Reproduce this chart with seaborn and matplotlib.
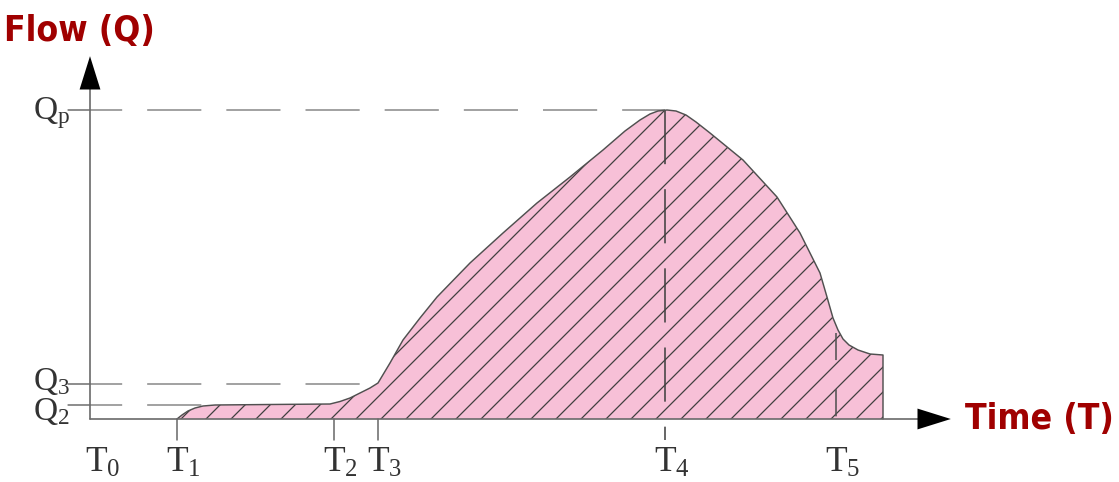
import numpy as np
import pandas as pd
import matplotlib
matplotlib.use("Agg")
import matplotlib.pyplot as plt
import seaborn as sns

# ---- data ----
time_pts = [8.7, 9.2, 9.8, 10.5, 11.3, 12.5, 18.0, 24.0, 25.0, 26.0, 27.0, 28.0, 28.8,
            30.0, 31.3, 33.0, 34.7, 38.0, 41.3, 44.7, 48.0, 51.3, 53.5, 55.0, 56.0,
            56.8, 57.7, 58.6, 59.6, 60.6, 62.0, 65.3, 68.7, 71.0, 73.0, 73.7, 74.3,
            74.8, 75.3, 75.9, 76.8, 78.0, 79.3, 79.3]
flow_pts = [0.0, 0.4, 0.8, 1.1, 1.3, 1.4, 1.45, 1.5, 1.75, 2.1, 2.6, 3.1, 3.6,
            5.6, 7.9, 10.1, 12.2, 15.6, 18.6, 21.6, 24.2, 26.9, 28.8, 29.9, 30.5,
            30.8, 30.9, 30.8, 30.4, 29.7, 28.6, 25.9, 22.2, 18.6, 14.6, 12.2, 10.1,
            8.9, 8.0, 7.4, 6.9, 6.5, 6.4, 0.0]

t_ticks = [0.0, 8.7, 24.4, 28.8, 57.5, 74.6]
t_labels = ["T$_0$", "T$_1$", "T$_2$", "T$_3$", "T$_4$", "T$_5$"]
q_ticks = [1.4, 3.5, 30.9]
q_labels = ["Q$_2$", "Q$_3$", "Q$_\\mathrm{p}$"]
q_dash_end = [12.5, 28.8, 57.5]

x_label = "Time (T)"
y_label = "Flow (Q)"

# ---- style ----
sns.set_theme(style="white")
plt.rcParams["font.family"] = ["DejaVu Sans"]
plt.rcParams["mathtext.fontset"] = "custom"
plt.rcParams["mathtext.rm"] = "Liberation Serif"
plt.rcParams["mathtext.it"] = "Liberation Serif:italic"
plt.rcParams["hatch.linewidth"] = 0.6
plt.rcParams["lines.scale_dashes"] = False

DPI = 150
fig = plt.figure(figsize=(1119 / DPI, 482 / DPI), dpi=DPI)
ax = fig.add_axes([0, 0, 1, 1])
ax.set_xlim(-9.0, 102.9)
ax.set_ylim(-6.3, 41.9)
ax.axis("off")

df = pd.DataFrame({"t": time_pts, "q": flow_pts})
pink = "#F7C0D7"
hatch_col = "#404040"
ax.fill_between(df["t"], df["q"], 0, facecolor=pink, edgecolor="none", lw=0, zorder=1)
ax.fill_between(df["t"], df["q"], 0, facecolor="none", edgecolor=hatch_col, hatch="//",
                lw=0, zorder=2)
sns.lineplot(data=df, x="t", y="q", sort=False, estimator=None, color="#505050",
             lw=0.7, ax=ax, zorder=4)

axis_col = "#6a6a6a"
dash = (0, (26, 12))
# horizontal dashed lines for Q values
for q, xe in zip(q_ticks, q_dash_end):
    ax.plot([-2.2, xe], [q, q], color="#8a8a8a", lw=0.75, ls=dash, zorder=3)
    ax.plot([-2.2, 0], [q, q], color="#8a8a8a", lw=0.75, zorder=3)

# vertical lines for T ticks
for t in t_ticks[1:]:
    if t == t_ticks[4]:
        ax.plot([t, t], [30.9, -2.1], color="#404040", lw=0.75, ls=(0, (26, 12)), zorder=3)
    elif t == t_ticks[5]:
        ax.plot([t, t], [8.6, -2.1], color="#505050", lw=0.75, ls=(0, (13, 14)), zorder=3)
    else:
        ax.plot([t, t], [0, -2.1], color=axis_col, lw=0.75, zorder=3)

# axes
ax.plot([0, 0], [0, 33.5], color=axis_col, lw=0.8, zorder=5)
ax.plot([0, 83.5], [0, 0], color=axis_col, lw=0.8, zorder=5)
ax.annotate("", xy=(0, 36.7), xytext=(0, 33.3),
            arrowprops=dict(arrowstyle="-|>,head_length=0.8,head_width=0.25",
                            color="black", lw=0, mutation_scale=20), zorder=6)
ax.annotate("", xy=(86.5, 0), xytext=(83.0, 0),
            arrowprops=dict(arrowstyle="-|>,head_length=0.8,head_width=0.25",
                            color="black", lw=0, mutation_scale=20), zorder=6)

serif = ["Liberation Serif", "DejaVu Serif"]
# tick labels
for t, lab in zip(t_ticks, t_labels):
    off = -0.5 if t == 0 else -1.1
    ax.text(t + off, -2.8, lab, ha="left", va="top", fontsize=17, color="#333333",
            family=serif)
q_label_y = [0.75, 3.75, 30.6]
for q, lab in zip(q_label_y, q_labels):
    ax.text(-2.0, q, lab, ha="right", va="center", fontsize=16, color="#333333",
            family=serif)

# axis titles
red = "#A00000"
ax.text(-1.1, 38.8, y_label, ha="center", va="center", fontsize=17,
        fontweight="bold", color=red, fontstretch="condensed")
ax.text(94.9, 0.0, x_label, ha="center", va="center", fontsize=17,
        fontweight="bold", color=red, fontstretch="condensed")

fig.savefig("out.png", dpi=DPI)
